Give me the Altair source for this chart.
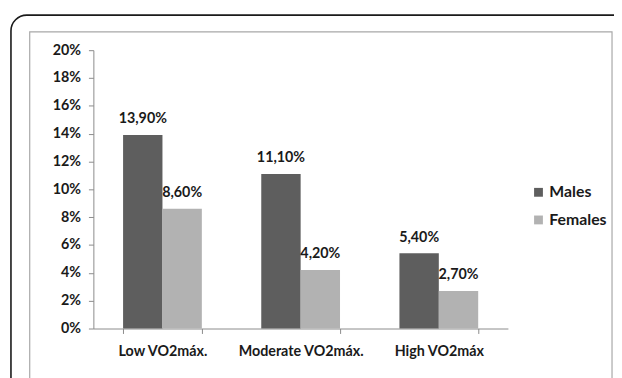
import altair as alt
import pandas as pd

categories = ["Low VO2máx.", "Moderate VO2máx.", "High VO2máx"]
series = ["Males", "Females"]
males = [13.9, 11.1, 5.4]
females = [8.6, 4.2, 2.7]
males_labels = ["13,90%", "11,10%", "5,40%"]
females_labels = ["8,60%", "4,20%", "2,70%"]
y_ticks = [0, 2, 4, 6, 8, 10, 12, 14, 16, 18, 20]

rows = []
for i, c in enumerate(categories):
    rows.append({"cat": c, "sex": "Males", "val": males[i], "lab": males_labels[i]})
    rows.append({"cat": c, "sex": "Females", "val": females[i], "lab": females_labels[i]})
df = pd.DataFrame(rows)

FONT = "Lato"
TXT = "#1a1a1a"

x_enc = alt.X("cat:N", sort=categories, title=None,
              scale=alt.Scale(paddingInner=0.43, paddingOuter=0.215),
              axis=alt.Axis(labelAngle=0, tickBand="extent", domainColor="#8a8a8a",
                            tickColor="#8a8a8a", tickSize=5, labelPadding=11,
                            labelFont=FONT, labelFontSize=14.5, labelColor=TXT,
                            labelFontWeight="bold"))
y_enc = alt.Y("val:Q", title=None,
              scale=alt.Scale(domain=[0, 20], nice=False),
              axis=alt.Axis(values=y_ticks, labelExpr="datum.value + '%'", grid=False,
                            labelOverlap=False, domainColor="#8a8a8a", tickColor="#8a8a8a",
                            tickSize=5, labelPadding=8, labelFont=FONT, labelFontSize=14.5,
                            labelColor=TXT, labelFontWeight="bold"))
off = alt.XOffset("sex:N", sort=series, scale=alt.Scale(paddingInner=0, paddingOuter=0))
color = alt.Color("sex:N", sort=series,
                  scale=alt.Scale(domain=series, range=["#5e5e5e", "#b2b2b2"]),
                  legend=alt.Legend(title=None, orient="none", legendX=443, legendY=136,
                                    symbolType="square", symbolSize=80, symbolStrokeWidth=0,
                                    labelFont=FONT, labelFontSize=16, labelColor=TXT,
                                    labelFontWeight="bold", rowPadding=12, labelOffset=3))

base = alt.Chart(df)
bars = base.mark_bar().encode(x=x_enc, y=y_enc, xOffset=off, color=color)
texts = base.mark_text(dy=-16, font=FONT, fontSize=14.5, fontWeight="bold", color=TXT).encode(
    x=x_enc, xOffset=off, y=y_enc, text="lab:N")

frame_df = pd.DataFrame({"a": [0]})
outer = alt.Chart(frame_df).mark_rect(fill=None, stroke="#1a1a1a", strokeWidth=1.6,
                                      cornerRadius=16).encode(
    x=alt.value(-83.5), x2=alt.value(560), y=alt.value(-35.5), y2=alt.value(400))
inner = alt.Chart(frame_df).mark_rect(fill=None, stroke="#a8a8a8", strokeWidth=1.2).encode(
    x=alt.value(-64.5), x2=alt.value(525.5), y=alt.value(-18.5), y2=alt.value(400))

chart = alt.layer(outer, inner, bars, texts).properties(
    width=420, height=282,
    background="white",
    autosize=alt.AutoSizeParams(type="none"),
    padding={"left": 86.5, "top": 40.3, "right": 107.5, "bottom": 47.7},
).configure_view(strokeWidth=0, stroke="transparent")

chart.save("out.html", embed_options={"renderer": "svg", "actions": False})
